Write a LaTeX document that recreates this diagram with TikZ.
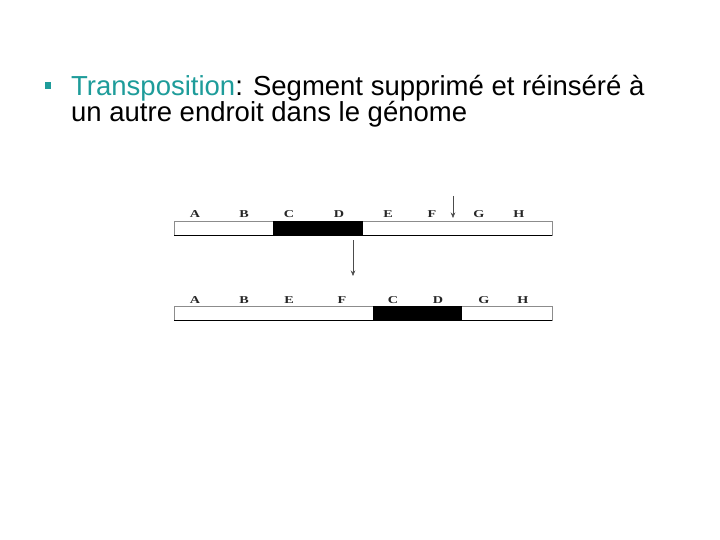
\documentclass[tikz,border=0pt]{standalone}
\usepackage{fontspec}
\usetikzlibrary{arrows.meta}
\setmainfont{Liberation Sans}
\newfontfamily\serifl{Liberation Serif}
\definecolor{teal1}{HTML}{1E9C9A}
\begin{document}
\begin{tikzpicture}[x=1pt,y=-1pt,
  lbl/.style={font=\serifl\bfseries\fontsize{10.5}{12}\selectfont, inner sep=0pt, anchor=base, xscale=1.35, text=black!85},
  ttl/.style={anchor=base west, inner sep=0pt, font=\fontsize{27.5}{30}\selectfont},
  barbox/.style={draw=black!45, line width=0.6pt, fill=white},
  seg/.style={fill=black, draw=none},
  arr/.style={draw=black!70, line width=0.5pt, -{Stealth[length=5.5pt,width=4.5pt]}}]
\useasboundingbox (0,0) rectangle (720,540);
% title
\fill[teal1] (45,82) rectangle (51,89) coordinate (bul);
\node[ttl] (title1) at (71,96) {\textcolor{teal1}{Transposition}: Segment supprimé et réinséré à};
\node[ttl] (title2) at (71,122) {un autre endroit dans le génome};
% top bar
\draw[barbox] (174,221) rectangle (552,235);
\fill[seg] (273,221) rectangle (363,235);
\draw[black, line width=1pt] (174,235.3) -- (552,235.3);
\node[lbl] (tA) at (195,218) {A};
\node[lbl] (tB) at (244,218) {B};
\node[lbl] (tC) at (289,218) {C};
\node[lbl] (tD) at (339,218) {D};
\node[lbl] (tE) at (388,218) {E};
\node[lbl] (tF) at (432,218) {F};
\node[lbl] (tG) at (479,218) {G};
\node[lbl] (tH) at (519,218) {H};
\coordinate (a1s) at (453,196);
\coordinate (a1e) at (453,218);
\draw[arr] (a1s) -- (a1e);
% middle arrow
\coordinate (a2s) at (353,240);
\coordinate (a2e) at (353,276);
\draw[arr] (a2s) -- (a2e);
% bottom bar
\draw[barbox] (174,306) rectangle (552,320);
\fill[seg] (373,306) rectangle (462,320);
\draw[black, line width=1pt] (174,320.3) -- (552,320.3);
\node[lbl] (bA) at (195,303) {A};
\node[lbl] (bB) at (244,303) {B};
\node[lbl] (bE) at (289,303) {E};
\node[lbl] (bF) at (342,303) {F};
\node[lbl] (bC) at (393,303) {C};
\node[lbl] (bD) at (438,303) {D};
\node[lbl] (bG) at (484,303) {G};
\node[lbl] (bH) at (523,303) {H};
\end{tikzpicture}
\end{document}
